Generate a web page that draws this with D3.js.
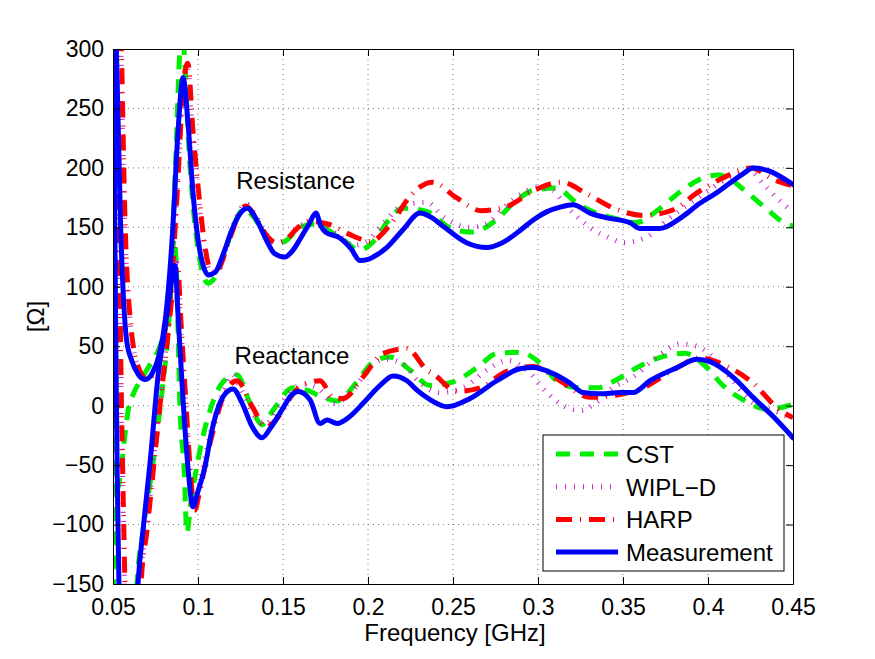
<!DOCTYPE html>
<html>
<head>
<meta charset="utf-8">
<script src="https://cdn.jsdelivr.net/npm/d3@7"></script>
<style>
  body { margin: 0; background: #fff; }
  svg text { font-family: "Liberation Sans", Arial, Helvetica, sans-serif; fill: #000; }
</style>
</head>
<body>
<div id="chart"></div>
<script>
// axis ticks
const freqTicks = [0.05, 0.1, 0.15, 0.2, 0.25, 0.3, 0.35, 0.4, 0.45];
const freqTickLabels = ["0.05", "0.1", "0.15", "0.2", "0.25", "0.3", "0.35", "0.4", "0.45"];
const ohmTicks = [-150, -100, -50, 0, 50, 100, 150, 200, 250, 300];
const ohmTickLabels = ["\u2212150", "\u2212100", "\u221250", "0", "50", "100", "150", "200", "250", "300"];

// [frequency GHz, ohm]
const cstR = [[0.05, 800], [0.0506, 250], [0.0512, 0], [0.0525, -70], [0.055, -50], [0.057, -25], [0.059, -3],
  [0.062, 10], [0.0665, 22], [0.0724, 36], [0.0776, 50], [0.081, 68], [0.083, 95], [0.085, 140], [0.087, 210],
  [0.089, 290], [0.0905, 325], [0.092, 295], [0.0945, 220], [0.097, 170], [0.1, 132], [0.103, 110], [0.106, 103],
  [0.11, 108], [0.115, 125], [0.12, 148], [0.127, 165], [0.132, 160], [0.14, 143], [0.147, 136], [0.152, 139],
  [0.16, 150], [0.17, 153], [0.176, 148], [0.185, 140], [0.195, 131], [0.2, 134], [0.205, 141], [0.211, 154],
  [0.2206, 166], [0.2353, 163], [0.2476, 150], [0.2606, 146], [0.2753, 156], [0.2853, 170], [0.297, 181],
  [0.3106, 183], [0.3224, 171], [0.3324, 163], [0.3441, 158], [0.3576, 154], [0.371, 165], [0.3829, 179],
  [0.3947, 190], [0.4065, 194], [0.4124, 191], [0.4224, 180], [0.4341, 166], [0.4447, 154], [0.45, 151]];

const cstX = [[0.05, 500], [0.0504, 0], [0.051, -400], [0.06, -420], [0.0641, -150], [0.0676, -107], [0.0718, -65],
  [0.0759, -23], [0.0794, 19], [0.0824, 61], [0.0845, 110], [0.0858, 140], [0.087, 125], [0.0896, -9],
  [0.0918, -52], [0.0935, -107], [0.0955, -85], [0.1012, -37], [0.1071, -4], [0.1147, 20], [0.1229, 26],
  [0.1306, 2], [0.1376, -16], [0.1441, -4], [0.1559, 15], [0.1641, 13], [0.1735, 7], [0.1818, 4], [0.1935, 20],
  [0.2024, 36], [0.2129, 41], [0.2247, 30], [0.2365, 17], [0.25, 20], [0.2641, 32], [0.2759, 44], [0.2894, 45],
  [0.3012, 36], [0.3129, 19], [0.3247, 15], [0.3347, 15], [0.3465, 22], [0.3582, 32], [0.3729, 41], [0.3865, 44],
  [0.3994, 32], [0.4088, 17], [0.4206, 5], [0.4347, -3], [0.45, 1]];

const wiplR = [[0.05, 650], [0.053, 420], [0.055, 270], [0.057, 150], [0.06, 72], [0.065, 32], [0.07, 23],
  [0.075, 31], [0.08, 58], [0.085, 118], [0.088, 190], [0.091, 268], [0.0935, 285], [0.0965, 235], [0.1, 180],
  [0.104, 132], [0.1075, 112], [0.112, 114], [0.118, 140], [0.124, 163], [0.128, 170], [0.134, 160], [0.14, 145],
  [0.146, 137], [0.152, 140], [0.159, 150], [0.165, 155], [0.171, 153], [0.178, 148], [0.185, 141], [0.192, 135],
  [0.2, 139], [0.21, 155], [0.22, 168], [0.2347, 171], [0.2441, 159], [0.26, 150], [0.27, 153], [0.2794, 166],
  [0.2912, 179], [0.2994, 184], [0.3088, 181], [0.3147, 171], [0.3229, 159], [0.3324, 148], [0.3424, 141],
  [0.35, 137], [0.3641, 142], [0.3759, 156], [0.3953, 176], [0.4129, 192], [0.4247, 197], [0.4335, 185],
  [0.4424, 172], [0.45, 163]];

const wiplX = [[0.05, 380], [0.053, 180], [0.055, -10], [0.057, -160], [0.059, -300], [0.063, -320], [0.066, -150],
  [0.07, -100], [0.074, -45], [0.078, 10], [0.082, 58], [0.085, 100], [0.0875, 120], [0.09, 65], [0.093, -5],
  [0.0955, -60], [0.0975, -82], [0.101, -65], [0.105, -38], [0.11, -8], [0.115, 12], [0.12, 26], [0.126, 12],
  [0.133, -8], [0.14, -15], [0.148, 0], [0.156, 14], [0.163, 18], [0.171, 14], [0.18, 2], [0.1912, 13],
  [0.2012, 33], [0.2112, 39], [0.2206, 35], [0.2306, 19], [0.2424, 11], [0.2559, 15], [0.27, 30], [0.2818, 38],
  [0.2935, 30], [0.3053, 11], [0.3147, 0], [0.3247, -4], [0.3347, 3], [0.3441, 15], [0.3559, 24], [0.37, 41],
  [0.3835, 52], [0.3935, 50], [0.4029, 41], [0.4147, 21], [0.4247, 4], [0.4382, -4], [0.45, -11]];

const harpR = [[0.05, 700], [0.053, 450], [0.055, 300], [0.057, 160], [0.06, 75], [0.065, 32], [0.07, 22],
  [0.075, 30], [0.08, 58], [0.085, 115], [0.088, 185], [0.091, 262], [0.094, 288], [0.097, 232], [0.1, 185],
  [0.104, 135], [0.108, 112], [0.112, 115], [0.118, 138], [0.124, 160], [0.128, 168], [0.134, 158], [0.14, 144],
  [0.146, 137], [0.152, 140], [0.159, 150], [0.165, 155], [0.1720, 154], [0.18, 151], [0.1865, 146],
  [0.1941, 141], [0.2012, 138], [0.213, 152], [0.2247, 176], [0.2306, 184], [0.238, 188], [0.252, 175],
  [0.2665, 164], [0.2824, 168], [0.2976, 181], [0.3135, 188], [0.329, 178], [0.3447, 166], [0.3624, 160],
  [0.38, 165], [0.3935, 179], [0.4094, 192], [0.4253, 200], [0.4388, 190], [0.45, 185]];

const harpX = [[0.05, 400], [0.053, 200], [0.055, 0], [0.057, -150], [0.059, -300], [0.063, -330], [0.0665, -150],
  [0.07, -105], [0.074, -50], [0.078, 5], [0.082, 55], [0.085, 95], [0.088, 118], [0.09, 70], [0.093, 0],
  [0.0955, -55], [0.098, -88], [0.101, -72], [0.105, -45], [0.11, -15], [0.115, 8], [0.1229, 21], [0.132, -1],
  [0.14, -18], [0.148, -8], [0.1559, 10], [0.1641, 19], [0.1718, 21], [0.1794, 7], [0.1853, 6], [0.197, 24],
  [0.2088, 44], [0.2229, 48], [0.2347, 30], [0.2382, 27], [0.2524, 12], [0.2659, 15], [0.2818, 29], [0.2971, 33],
  [0.3129, 21], [0.3306, 7], [0.3465, 9], [0.3618, 15], [0.3794, 30], [0.3953, 40], [0.4112, 33], [0.4265, 19],
  [0.4424, -4], [0.45, -10]];

const measR = [[0.05, 420], [0.0515, 330], [0.053, 240], [0.0545, 150], [0.056, 95], [0.058, 55], [0.061, 38],
  [0.065, 26], [0.069, 22], [0.073, 27], [0.077, 42], [0.081, 75], [0.085, 145], [0.088, 225], [0.0912, 276],
  [0.094, 240], [0.097, 180], [0.1, 140], [0.103, 118], [0.106, 110], [0.11, 112], [0.115, 128], [0.12, 148],
  [0.125, 162], [0.129, 166], [0.135, 155], [0.14, 140], [0.145, 128], [0.151, 125], [0.156, 131], [0.16, 140],
  [0.165, 152], [0.1694, 162], [0.172, 152], [0.175, 146], [0.1835, 141], [0.19, 132], [0.1953, 122], [0.2, 123],
  [0.203, 125], [0.211, 133], [0.2206, 148], [0.2306, 162], [0.2365, 159], [0.245, 150], [0.258, 137],
  [0.27, 133], [0.279, 137], [0.29, 148], [0.297, 156], [0.305, 163], [0.313, 167], [0.3206, 169], [0.3306, 162],
  [0.3406, 158], [0.354, 154], [0.36, 149], [0.3718, 149], [0.385, 159], [0.395, 170], [0.405, 179],
  [0.4206, 195], [0.4265, 200], [0.4347, 198], [0.45, 186]];

const measX = [[0.05, 330], [0.0508, 200], [0.0516, 60], [0.0525, -60], [0.0535, -150], [0.055, -260],
  [0.06, -330], [0.062, -230], [0.0647, -150], [0.068, -100], [0.072, -45], [0.0765, 25], [0.08, 60],
  [0.083, 90], [0.0865, 118], [0.0883, 75], [0.0912, 5], [0.0941, -52], [0.097, -85], [0.1, -72], [0.104, -52],
  [0.108, -22], [0.112, -1], [0.116, 10], [0.1206, 14], [0.126, 2], [0.132, -18], [0.1376, -27], [0.143, -18],
  [0.15, -2], [0.155, 9], [0.1588, 12], [0.1659, 5], [0.1718, -15], [0.1759, -12], [0.1818, -15], [0.1894, -9],
  [0.1971, 2], [0.2071, 17], [0.2147, 25], [0.2229, 21], [0.2288, 13], [0.2365, 5], [0.2465, -1], [0.26, 6],
  [0.2759, 21], [0.2894, 31], [0.297, 32], [0.3088, 27], [0.3188, 19], [0.3265, 11], [0.3365, 10], [0.3482, 11],
  [0.3559, 11], [0.3659, 21], [0.3818, 32], [0.3935, 39], [0.4012, 37], [0.4147, 24], [0.4265, 7], [0.4382, -9],
  [0.45, -27]];

const seriesNames = ["CST", "WIPL\u2212D", "HARP", "Measurement"];

const width = 875, height = 659;
const margin = { top: 49, right: 82, bottom: 75, left: 113 };
const innerW = width - margin.left - margin.right;
const innerH = height - margin.top - margin.bottom;

const styles = [
  { color: "#00ee00", width: 5, dash: "14,10", cap: "butt" },
  { color: "#cc22cc", width: 5, dash: "1,8", cap: "butt" },
  { color: "#ff0000", width: 5, dash: "16,8,1,8", cap: "butt" },
  { color: "#0000ff", width: 5, dash: null, cap: "round" }
];
const seriesData = [[cstR, cstX], [wiplR, wiplX], [harpR, harpX], [measR, measX]];

const svg = d3.select("#chart")
  .append("svg")
  .attr("width", width)
  .attr("height", height);

const g = svg.append("g")
  .attr("transform", `translate(${margin.left},${margin.top})`);

const xScale = d3.scaleLinear().domain([0.05, 0.45]).range([0, innerW]);
const yScale = d3.scaleLinear().domain([-150, 300]).range([innerH, 0]);

// grid
g.append("g")
  .selectAll("line")
  .data(freqTicks.slice(1, -1))
  .join("line")
  .attr("x1", d => xScale(d)).attr("x2", d => xScale(d))
  .attr("y1", 0).attr("y2", innerH)
  .attr("stroke", "#555").attr("stroke-width", 0.8).attr("stroke-dasharray", "1,4");
g.append("g")
  .selectAll("line")
  .data(ohmTicks.slice(1, -1))
  .join("line")
  .attr("x1", 0).attr("x2", innerW)
  .attr("y1", d => yScale(d)).attr("y2", d => yScale(d))
  .attr("stroke", "#555").attr("stroke-width", 0.8).attr("stroke-dasharray", "1,4");

svg.append("clipPath").attr("id", "plot-clip")
  .append("rect").attr("width", innerW).attr("height", innerH);

const line = d3.line()
  .x(d => xScale(d[0]))
  .y(d => yScale(d[1]))
  .curve(d3.curveMonotoneX);

const plot = g.append("g").attr("clip-path", "url(#plot-clip)");
seriesData.forEach((pair, i) => {
  const s = styles[i];
  pair.forEach(data => {
    plot.append("path")
      .datum(data)
      .attr("fill", "none")
      .attr("stroke", s.color)
      .attr("stroke-width", s.width)
      .attr("stroke-linecap", s.cap)
      .attr("stroke-linejoin", "round")
      .attr("stroke-dasharray", s.dash)
      .attr("d", line);
  });
});

// axes, MATLAB style: ticks inside, full box
const xAxis = d3.axisBottom(xScale)
  .tickValues(freqTicks)
  .tickFormat((d, i) => freqTickLabels[i])
  .tickSizeInner(-7).tickSizeOuter(0).tickPadding(15);
const yAxis = d3.axisLeft(yScale)
  .tickValues(ohmTicks)
  .tickFormat((d, i) => ohmTickLabels[i])
  .tickSizeInner(-7).tickSizeOuter(0).tickPadding(9);

function styleAxis(sel) {
  sel.attr("font-size", 23).attr("font-family", null);
  sel.selectAll("path, line").attr("stroke", "#000");
  sel.selectAll("text").attr("fill", "#000");
}

g.append("g").attr("transform", `translate(0,${innerH})`).call(xAxis).call(styleAxis);
g.append("g").call(yAxis).call(styleAxis);
g.append("g").call(d3.axisTop(xScale).tickValues(freqTicks).tickFormat("").tickSizeInner(-7).tickSizeOuter(0)).call(styleAxis);
g.append("g").attr("transform", `translate(${innerW},0)`)
  .call(d3.axisRight(yScale).tickValues(ohmTicks).tickFormat("").tickSizeInner(-7).tickSizeOuter(0)).call(styleAxis);

// axis labels
svg.append("text")
  .attr("x", margin.left + innerW / 2 + 2)
  .attr("y", 641)
  .attr("text-anchor", "middle")
  .style("font-size", "24px")
  .text("Frequency [GHz]");

svg.append("text")
  .attr("transform", `translate(44,${margin.top + innerH / 2}) rotate(-90)`)
  .attr("text-anchor", "middle")
  .style("font-size", "24px")
  .text("[\u03A9]");

// annotations
g.append("text")
  .attr("x", xScale(0.1225)).attr("y", yScale(182))
  .style("font-size", "24px")
  .text("Resistance");
g.append("text")
  .attr("x", xScale(0.1215)).attr("y", yScale(35))
  .style("font-size", "24px")
  .text("Reactance");

// legend
const legend = svg.append("g").attr("transform", "translate(543,435)");
legend.append("rect")
  .attr("width", 241).attr("height", 136)
  .attr("fill", "#fff").attr("stroke", "#000").attr("stroke-width", 1);
seriesNames.forEach((name, i) => {
  const s = styles[i];
  const yOff = 19 + i * 32.7;
  legend.append("line")
    .attr("x1", 13).attr("x2", 75)
    .attr("y1", yOff).attr("y2", yOff)
    .attr("stroke", s.color)
    .attr("stroke-width", s.width)
    .attr("stroke-dasharray", s.dash);
  legend.append("text")
    .attr("x", 83).attr("y", yOff + 9)
    .style("font-size", "24px")
    .text(name);
});
</script>
</body>
</html>
